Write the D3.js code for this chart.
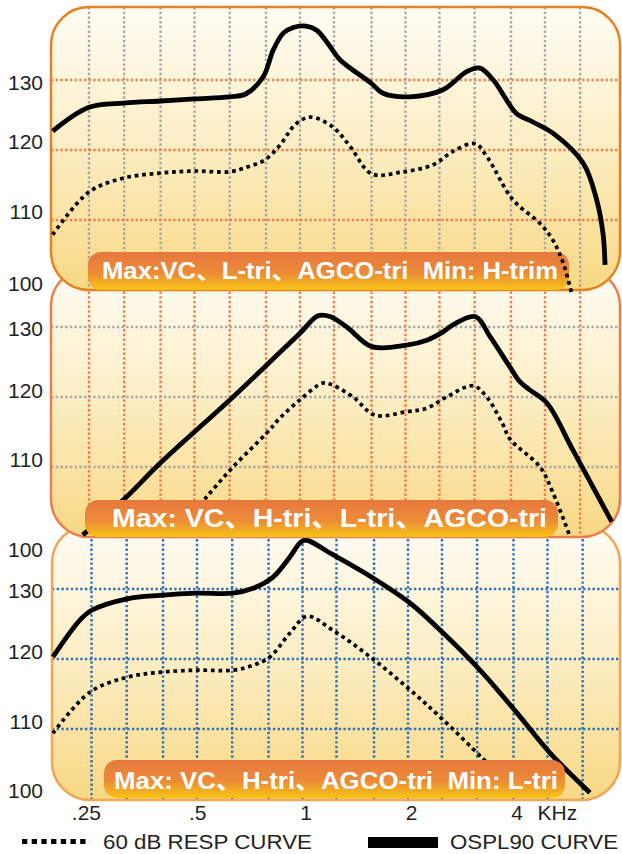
<!DOCTYPE html>
<html><head><meta charset="utf-8">
<script src="https://cdn.jsdelivr.net/npm/d3@7"></script>
<style>
html,body{margin:0;padding:0;background:#fff;}
svg{display:block;}
</style></head><body>
<svg id="chart" width="622" height="854"></svg>
<script>
// ---------- data ----------
const freqTicks = [0.25, 0.5, 1, 2, 4];
const freqTickLabels = [".25", ".5", "1", "2", "4"];
const freqUnit = "KHz";
const gridFreqs = [0.25, 0.315, 0.4, 0.5, 0.63, 0.8, 1, 1.25, 1.6, 2, 2.5, 3.15, 4, 5, 6.3];
const gridDb = [110, 120, 130];
const dbTicks = [130, 120, 110, 100];
const dbTickLabels = ["130", "120", "110", "100"];
const legendLabels = ["60 dB RESP CURVE", "OSPL90 CURVE"];

// panel 1 (top)
const p1Title = "Max:VC、L-tri、AGCO-tri  Min: H-trim";
const p1OsplFreq = [0.197, 0.25, 0.315, 0.4, 0.5, 0.63, 0.7, 0.786, 0.839, 0.896, 0.957, 1.04, 1.116, 1.218, 1.3, 1.6, 1.725, 2.06, 2.56, 2.99, 3.26, 3.56, 3.89, 4.15, 4.62, 5.27, 6.43, 7.02, 7.32, 7.42];
const p1Ospl     = [122.7, 126.1, 126.7, 127.0, 127.3, 127.6, 128.0, 130.5, 134.3, 136.7, 137.5, 137.7, 137.1, 134.8, 132.9, 129.5, 128.1, 127.6, 128.6, 131.2, 131.7, 130.0, 127.1, 125.2, 124.0, 122.4, 118.1, 112.9, 108.1, 103.6];
const p1RespFreq = [0.197, 0.25, 0.315, 0.4, 0.5, 0.63, 0.72, 0.795, 0.877, 0.968, 1.068, 1.24, 1.39, 1.6, 1.93, 2.4, 2.73, 3.16, 3.42, 4.05, 4.84, 5.27, 5.64, 5.96];
const p1Resp     = [107.9, 114.0, 116.0, 116.7, 117.0, 116.9, 117.7, 118.6, 120.7, 123.6, 124.7, 123.3, 120.5, 116.6, 116.8, 117.9, 119.8, 120.9, 119.0, 112.9, 109.5, 107.1, 103.8, 99.5];

// panel 2 (middle)
const p2Title = "Max: VC、H-tri、L-tri、AGCO-tri";
const p2OsplFreq = [0.24, 0.318, 0.4, 0.644, 0.877, 1.0, 1.126, 1.218, 1.36, 1.6, 2.015, 2.3, 2.56, 2.73, 3.16, 3.49, 3.97, 4.24, 4.53, 5.07, 6.01, 7.75];
const p2Ospl     = [100.3, 105.6, 110.6, 120.0, 126.4, 129.1, 131.6, 131.5, 130.0, 127.2, 127.4, 128.1, 129.3, 130.3, 131.5, 128.6, 124.3, 122.2, 121.0, 119.1, 112.4, 102.2];
const p2RespFreq = [0.47, 0.543, 0.644, 0.805, 0.877, 1.0, 1.163, 1.24, 1.417, 1.637, 2.015, 2.3, 2.62, 3.12, 3.41, 3.8, 3.97, 4.84, 5.27, 5.9];
const p2Resp     = [102.1, 105.8, 110.0, 114.9, 117.0, 119.6, 122.0, 121.7, 120.0, 117.4, 117.9, 118.4, 120.0, 121.6, 120.0, 116.0, 114.0, 110.0, 106.3, 100.0];

// panel 3 (bottom)
const p3Title = "Max: VC、H-tri、AGCO-tri  Min: L-tri";
const p3OsplFreq = [0.194, 0.232, 0.251, 0.316, 0.392, 0.5, 0.633, 0.723, 0.824, 0.921, 0.984, 1.02, 1.222, 1.528, 2.026, 2.52, 3.21, 4.09, 5.08, 6.61];
const p3Ospl     = [120.3, 125.6, 127.0, 128.6, 129.1, 129.4, 129.4, 130.1, 131.7, 134.6, 136.6, 137.0, 134.9, 132.1, 128.0, 123.7, 118.4, 112.3, 106.6, 100.9];
const p3RespFreq = [0.194, 0.248, 0.316, 0.392, 0.5, 0.633, 0.723, 0.808, 0.921, 1.03, 1.222, 1.579, 2.026, 2.52, 3.25, 3.66];
const p3Resp     = [109.4, 115.3, 117.4, 118.1, 118.4, 118.4, 119.1, 120.3, 123.7, 126.1, 124.1, 120.1, 115.6, 111.3, 105.9, 103.3];

// ---------- layout / style ----------
const FONT = "'Liberation Sans', Arial, 'Noto Sans CJK SC', sans-serif";
const svg = d3.select("#chart");
const defs = svg.append("defs");

function linGrad(id, stops) {
  const g = defs.append("linearGradient").attr("id", id)
    .attr("x1", 0).attr("y1", 0).attr("x2", 0).attr("y2", 1);
  stops.forEach(s => g.append("stop").attr("offset", s[0]).attr("stop-color", s[1]));
}
linGrad("panelFill", [[0, "#fffcf4"], [0.45, "#fcefc8"], [1, "#f8d884"]]);
linGrad("bandFill", [[0, "#e7783f"], [0.55, "#ec8b37"], [1, "#f7c415"]]);

const panels = [
  { key: "p3", top: 525, bottom: 800, base: 799, left: 52, right: 620, x0: 91.5,
    border: "#f3a552", vGrid: "#2f72b5", hGrid: "#2f72b5",
    band: { x: 104, y: 760, w: 461, h: 38 }, title: p3Title, tx: 114, ty: 788.5, ts: 24, tl: 444,
    linesOverBand: false, ospl: [p3OsplFreq, p3Ospl], resp: [p3RespFreq, p3Resp],
    nudge: { 130: 1.5, 120: -8, 110: -8, 100: -9 } },
  { key: "p2", top: 268, bottom: 537, base: 537, left: 51, right: 620, x0: 89,
    border: "#ea7f4d", vGrid: "#ef7a4a", hGrid: "#a9a9a9",
    band: { x: 85, y: 500, w: 473, h: 37 }, title: p2Title, tx: 112, ty: 527, ts: 26.5, tl: 435,
    linesOverBand: false, ospl: [p2OsplFreq, p2Ospl], resp: [p2RespFreq, p2Resp],
    nudge: { 130: 1, 120: -7, 110: -8, 100: 12 } },
  { key: "p1", top: 7, bottom: 290, base: 290, left: 51, right: 620, x0: 89,
    border: "#e8801f", vGrid: "#a6a6a6", hGrid: "#ee8048",
    band: { x: 88, y: 252, w: 481, h: 38 }, title: p1Title, tx: 102, ty: 278.5, ts: 23, tl: 456,
    linesOverBand: true, ospl: [p1OsplFreq, p1Ospl], resp: [p1RespFreq, p1Resp],
    nudge: { 130: 2, 120: -8.5, 110: -8.5, 100: -7 } }
];

let xs3;
panels.forEach(p => {
  const x = d3.scaleLog().domain([0.25, 4]).range([p.x0, p.x0 + 422]);
  const y = d3.scaleLinear().domain([100, 130]).range([p.base, p.base - 210]);
  if (p.key === "p3") xs3 = x;
  const g = svg.append("g").attr("class", p.key);
  const R = 38;

  defs.append("clipPath").attr("id", "clip-" + p.key)
    .append("rect").attr("x", p.left).attr("y", p.top)
    .attr("width", p.right - p.left).attr("height", p.bottom - p.top).attr("rx", R);

  g.append("rect").attr("x", p.left).attr("y", p.top)
    .attr("width", p.right - p.left).attr("height", p.bottom - p.top).attr("rx", R)
    .attr("fill", "url(#panelFill)");

  const grid = g.append("g").attr("clip-path", "url(#clip-" + p.key + ")");
  grid.selectAll("line.v").data(gridFreqs).join("line").attr("class", "v")
    .attr("x1", d => x(d)).attr("x2", d => x(d))
    .attr("y1", p.top).attr("y2", p.bottom)
    .attr("stroke", p.vGrid).attr("stroke-width", 2.4).attr("stroke-dasharray", "2.4 2.3");
  grid.selectAll("line.h").data(gridDb).join("line").attr("class", "h")
    .attr("x1", p.left).attr("x2", p.right)
    .attr("y1", d => y(d)).attr("y2", d => y(d))
    .attr("stroke", p.hGrid).attr("stroke-width", 2.4).attr("stroke-dasharray", "2.4 2.3");

  g.append("rect").attr("x", p.left).attr("y", p.top)
    .attr("width", p.right - p.left).attr("height", p.bottom - p.top).attr("rx", R)
    .attr("fill", "none").attr("stroke", p.border).attr("stroke-width", 2.5);

  const line = d3.line().x(d => x(d[0])).y(d => y(d[1])).curve(d3.curveCatmullRom.alpha(0.5));
  const drawLines = () => {
    const resp = p.resp[0].map((f, i) => [f, p.resp[1][i]]);
    const ospl = p.ospl[0].map((f, i) => [f, p.ospl[1][i]]);
    g.append("path").attr("d", line(resp)).attr("fill", "none").attr("stroke", "#000")
      .attr("stroke-width", 3.7).attr("stroke-dasharray", "3.7 3.8");
    g.append("path").attr("d", line(ospl)).attr("fill", "none").attr("stroke", "#000")
      .attr("stroke-width", 4.8).attr("stroke-linejoin", "round");
  };
  const drawBand = () => {
    g.append("rect").attr("x", p.band.x).attr("y", p.band.y)
      .attr("width", p.band.w).attr("height", p.band.h).attr("rx", 13)
      .attr("fill", "url(#bandFill)");
    g.append("text").attr("x", p.tx).attr("y", p.ty)
      .attr("font-family", FONT).attr("font-weight", "bold").attr("font-size", p.ts)
      .attr("fill", "#fff").style("white-space", "pre")
      .attr("textLength", p.tl).attr("lengthAdjust", "spacingAndGlyphs")
      .text(p.title);
  };
  if (p.linesOverBand) { drawBand(); drawLines(); } else { drawLines(); drawBand(); }

  // y tick labels
  svg.append("g").selectAll("text").data(dbTicks).join("text")
    .attr("x", 43).attr("y", d => y(d) + p.nudge[d])
    .attr("text-anchor", "end").attr("dominant-baseline", "central")
    .attr("font-family", FONT).attr("font-size", 21).attr("fill", "#231f20")
    .text((d, i) => dbTickLabels[i]);
});

// x tick labels (aligned to bottom panel)
svg.append("g").selectAll("text").data(freqTicks).join("text")
  .attr("x", d => xs3(d) + 9.5).attr("y", 819.5)
  .attr("text-anchor", "end")
  .attr("font-family", FONT).attr("font-size", 21).attr("fill", "#231f20")
  .text((d, i) => freqTickLabels[i]);
svg.append("text").attr("x", xs3(4) + 24).attr("y", 819.5)
  .attr("font-family", FONT).attr("font-size", 21).attr("fill", "#231f20").text(freqUnit);

// legend
const lg = svg.append("g");
lg.append("line").attr("x1", 22).attr("x2", 90).attr("y1", 841.5).attr("y2", 841.5)
  .attr("stroke", "#000").attr("stroke-width", 5).attr("stroke-dasharray", "5.3 4.4");
lg.append("text").attr("x", 103).attr("y", 849).attr("font-family", FONT).attr("font-size", 19.5)
  .attr("fill", "#231f20").attr("textLength", 209).attr("lengthAdjust", "spacingAndGlyphs").text(legendLabels[0]);
lg.append("line").attr("x1", 368).attr("x2", 438).attr("y1", 842.5).attr("y2", 842.5)
  .attr("stroke", "#000").attr("stroke-width", 11);
lg.append("text").attr("x", 450).attr("y", 849).attr("font-family", FONT).attr("font-size", 19.5)
  .attr("fill", "#231f20").attr("textLength", 168).attr("lengthAdjust", "spacingAndGlyphs").text(legendLabels[1]);
</script>
</body></html>
